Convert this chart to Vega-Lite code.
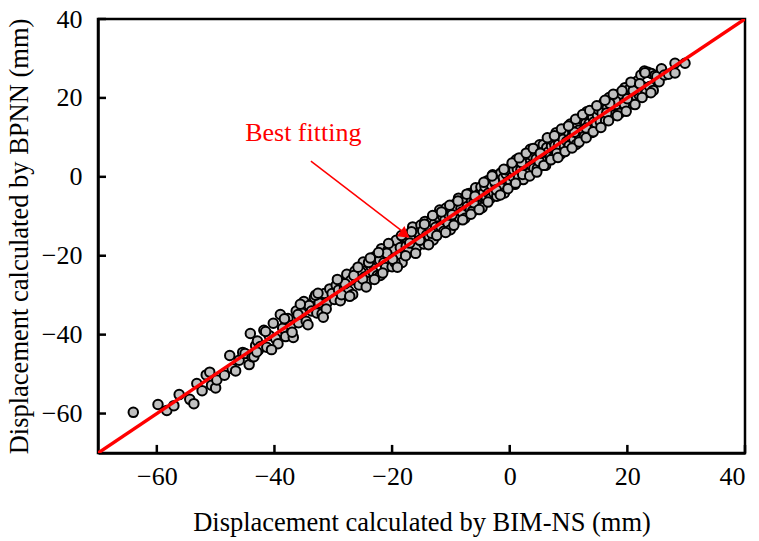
{
"$schema": "https://vega.github.io/schema/vega-lite/v6.json",
"width": 647, "height": 434,
"autosize": {"type": "none"},
"padding": {"left": 98, "top": 19, "right": 14, "bottom": 88},
"background": "white",
"config": {
 "view": {"stroke": "black", "strokeWidth": 2.5},
 "font": "Liberation Serif",
 "axis": {"grid": false, "domainColor": "black", "domainWidth": 2.5, "tickColor": "black", "tickWidth": 2.5,
  "labelFont": "Liberation Serif", "labelFontSize": 26, "labelColor": "black",
  "titleFont": "Liberation Serif", "titleFontSize": 26.5, "titleFontWeight": "normal", "titleColor": "black"}
},
"resolve": {"axis": {"x": "independent", "y": "independent"}},
"datasets": {
 "pts": [
{"x":-64,"y":-59.7},{"x":-59.8,"y":-57.7},{"x":-58.3,"y":-59.2},{"x":-57.1,"y":-58},{"x":-56.2,"y":-55.2},{"x":-54.4,"y":-56.4},{"x":-53.7,"y":-57.5},{"x":-53.2,"y":-52.4},{"x":-52.3,"y":-54.2},{"x":-51.6,"y":-50.2},{"x":-51,"y":-49.5},{"x":-50.7,"y":-52.8},{"x":-50,"y":-53.5},{"x":-49.8,"y":-51.5},{"x":-48.5,"y":-50.3},{"x":-47.6,"y":-45.3},{"x":-47.2,"y":-48.6},{"x":-46.6,"y":-49.2},{"x":-46,"y":-46.5},{"x":-45.4,"y":-44.5},{"x":-45,"y":-44.8},{"x":-44.3,"y":-47.6},{"x":-43.8,"y":-45.6},{"x":-43.2,"y":-42.8},{"x":-42.7,"y":-43.9},
{"x":-44.1,"y":-39.7},{"x":-43.5,"y":-45.6},{"x":-42.9,"y":-41.6},{"x":-42.4,"y":-43.0},{"x":-41.8,"y":-38.9},{"x":-41.3,"y":-43.2},{"x":-40.9,"y":-40.2},{"x":-40.2,"y":-37.1},{"x":-39.8,"y":-41.0},{"x":-39.0,"y":-34.9},{"x":-38.6,"y":-38.4},{"x":-38.1,"y":-40.5},{"x":-37.7,"y":-35.9},{"x":-37.2,"y":-37.7},{"x":-36.8,"y":-40.7},{"x":-36.3,"y":-34.0},{"x":-35.9,"y":-37.0},{"x":-35.4,"y":-34.5},{"x":-35.0,"y":-31.6},{"x":-34.6,"y":-36.6},{"x":-34.1,"y":-32.6},{"x":-33.7,"y":-34.0},{"x":-33.2,"y":-30.6},{"x":-32.8,"y":-34.5},{"x":-32.4,"y":-32.0},{"x":-31.9,"y":-34.7},{"x":-31.5,"y":-29.6},{"x":-31.1,"y":-32.0},{"x":-30.6,"y":-28.4},{"x":-30.2,"y":-29.6},{"x":-43.0,"y":-44.4},{"x":-39.4,"y":-42.3},{"x":-36.0,"y":-34.9},{"x":-33.0,"y":-30.0},{"x":-31.2,"y":-33.5},
{"x":-29.8,"y":-31.1},{"x":-29.5,"y":-27.5},{"x":-29.1,"y":-28.7},{"x":-28.8,"y":-31.4},{"x":-28.4,"y":-26.8},{"x":-28.1,"y":-28.3},{"x":-27.7,"y":-24.7},{"x":-27.4,"y":-28.9},{"x":-27.0,"y":-26.2},{"x":-26.7,"y":-29.8},{"x":-26.3,"y":-23.9},{"x":-26.0,"y":-25.9},{"x":-25.6,"y":-27.4},{"x":-25.3,"y":-24.1},{"x":-24.9,"y":-21.6},{"x":-24.6,"y":-25.3},{"x":-24.2,"y":-26.5},{"x":-23.9,"y":-22.0},{"x":-23.5,"y":-23.0},{"x":-23.2,"y":-24.2},{"x":-22.8,"y":-20.1},{"x":-22.5,"y":-25.0},{"x":-22.1,"y":-21.1},{"x":-21.8,"y":-18.2},{"x":-21.4,"y":-21.8},{"x":-21.1,"y":-23.0},{"x":-20.7,"y":-18.6},{"x":-20.4,"y":-20.1},{"x":-20.0,"y":-22.8},{"x":-19.7,"y":-18.3},{"x":-19.3,"y":-16.1},{"x":-19.0,"y":-20.1},{"x":-18.6,"y":-17.9},{"x":-18.3,"y":-21.7},{"x":-17.9,"y":-15.4},{"x":-17.6,"y":-17.6},{"x":-17.2,"y":-18.8},{"x":-16.9,"y":-15.2},{"x":-16.5,"y":-12.7},{"x":-16.2,"y":-17.0},{"x":-15.8,"y":-17.8},{"x":-15.5,"y":-14.2},{"x":-15.1,"y":-12.2},{"x":-28.0,"y":-27.1},{"x":-25.0,"y":-25.9},{"x":-22.0,"y":-25.0},{"x":-19.5,"y":-21.7},{"x":-17.0,"y":-16.8},{"x":-24.0,"y":-21.7},{"x":-20.9,"y":-19.4},
{"x":-14.8,"y":-13.7},{"x":-14.6,"y":-17.0},{"x":-14.4,"y":-11.3},{"x":-14.1,"y":-14.7},{"x":-13.9,"y":-12.1},{"x":-13.7,"y":-15.0},{"x":-13.5,"y":-13.1},{"x":-13.2,"y":-10.6},{"x":-13.0,"y":-16.0},{"x":-12.8,"y":-11.9},{"x":-12.6,"y":-12.8},{"x":-12.3,"y":-10.1},{"x":-12.1,"y":-13.8},{"x":-11.9,"y":-8.4},{"x":-11.7,"y":-12.6},{"x":-11.4,"y":-10.0},{"x":-11.2,"y":-13.8},{"x":-11.0,"y":-10.9},{"x":-10.8,"y":-7.9},{"x":-10.5,"y":-11.7},{"x":-10.3,"y":-9.7},{"x":-10.1,"y":-13.4},{"x":-9.9,"y":-8.0},{"x":-9.6,"y":-10.0},{"x":-9.4,"y":-7.0},{"x":-9.2,"y":-11.1},{"x":-9.0,"y":-8.2},{"x":-8.7,"y":-5.4},{"x":-8.5,"y":-10.6},{"x":-8.3,"y":-8.1},{"x":-8.1,"y":-8.9},{"x":-7.8,"y":-5.8},{"x":-7.6,"y":-10.5},{"x":-7.4,"y":-6.2},{"x":-7.2,"y":-7.5},{"x":-6.9,"y":-4.2},{"x":-6.7,"y":-8.2},{"x":-6.5,"y":-6.0},{"x":-6.3,"y":-8.7},{"x":-6.0,"y":-4.4},{"x":-5.8,"y":-2.8},{"x":-5.6,"y":-6.3},{"x":-5.4,"y":-7.2},{"x":-5.1,"y":-4.2},{"x":-4.9,"y":-2.6},{"x":-4.7,"y":-7.8},{"x":-4.5,"y":-4.2},{"x":-4.2,"y":-2.5},{"x":-4.0,"y":-5.1},{"x":-3.8,"y":-1.0},{"x":-3.6,"y":-4.1},{"x":-3.3,"y":-5.5},{"x":-3.1,"y":-2.1},{"x":-2.9,"y":0.5},{"x":-2.7,"y":-4.1},{"x":-2.4,"y":-1.8},{"x":-2.2,"y":-4.9},{"x":-2.0,"y":-0.1},{"x":-1.8,"y":-1.9},{"x":-1.5,"y":1.0},{"x":-1.3,"y":-2.9},{"x":-1.1,"y":-0.3},{"x":-0.9,"y":-4.1},{"x":-0.6,"y":0.7},{"x":-0.4,"y":1.7},{"x":-0.2,"y":-1.1},{"x":-13.3,"y":-14.3},{"x":-9.8,"y":-9.6},{"x":-6.1,"y":-6.6},{"x":-2.6,"y":-1.1},
{"x":0.1,"y":-1.1},{"x":0.3,"y":2.6},{"x":0.5,"y":0.1},{"x":0.7,"y":1.7},{"x":0.9,"y":-1.9},{"x":1.1,"y":4.3},{"x":1.3,"y":1.9},{"x":1.5,"y":-0.2},{"x":1.7,"y":3.7},{"x":1.9,"y":1.7},{"x":2.1,"y":3.6},{"x":2.3,"y":-0.7},{"x":2.5,"y":3.3},{"x":2.7,"y":5.3},{"x":2.9,"y":1.8},{"x":3.1,"y":3.4},{"x":3.3,"y":1.0},{"x":3.5,"y":7.0},{"x":3.7,"y":2.9},{"x":3.9,"y":5.2},{"x":4.1,"y":2.2},{"x":4.3,"y":6.5},{"x":4.5,"y":4.5},{"x":4.7,"y":2.1},{"x":4.9,"y":6.6},{"x":5.1,"y":8.1},{"x":5.3,"y":4.7},{"x":5.5,"y":4.1},{"x":5.7,"y":8.1},{"x":5.9,"y":6.4},{"x":6.1,"y":2.9},{"x":6.3,"y":7.4},{"x":6.5,"y":6.2},{"x":6.7,"y":9.5},{"x":6.9,"y":5.1},{"x":7.1,"y":7.8},{"x":7.3,"y":9.2},{"x":7.5,"y":5.0},{"x":7.7,"y":7.9},{"x":7.9,"y":11.2},{"x":8.1,"y":7.1},{"x":8.3,"y":8.2},{"x":8.5,"y":10.6},{"x":8.7,"y":5.8},{"x":8.9,"y":10.3},{"x":9.1,"y":9.5},{"x":9.3,"y":7.8},{"x":9.5,"y":12.2},{"x":9.7,"y":9.0},{"x":9.9,"y":11.5},{"x":10.1,"y":7.9},{"x":10.3,"y":13.4},{"x":10.5,"y":10.0},{"x":10.7,"y":11.6},{"x":10.9,"y":9.6},{"x":11.1,"y":13.4},{"x":11.3,"y":8.2},{"x":11.5,"y":12.7},{"x":11.7,"y":11.8},{"x":11.9,"y":10.0},{"x":12.1,"y":15.0},{"x":12.3,"y":11.4},{"x":12.5,"y":14.3},{"x":12.7,"y":10.3},{"x":12.9,"y":13.5},{"x":13.1,"y":16.5},{"x":13.3,"y":11.7},{"x":13.5,"y":13.5},{"x":13.7,"y":15.9},{"x":13.9,"y":11.2},{"x":14.1,"y":15.1},{"x":14.3,"y":13.9},{"x":14.5,"y":17.0},{"x":14.7,"y":13.5},{"x":14.9,"y":15.7},{"x":2.0,"y":3.6},{"x":5.0,"y":3.9},{"x":8.0,"y":6.0},{"x":11.0,"y":11.3},{"x":13.0,"y":12.4},
{"x":15.1,"y":17.0},{"x":15.4,"y":14.0},{"x":15.7,"y":16.2},{"x":16.0,"y":18.8},{"x":16.3,"y":14.2},{"x":16.6,"y":17.5},{"x":16.9,"y":20.1},{"x":17.2,"y":16.6},{"x":17.5,"y":15.6},{"x":17.8,"y":19.3},{"x":18.1,"y":18.3},{"x":18.4,"y":20.8},{"x":18.7,"y":16.1},{"x":19.0,"y":20.1},{"x":19.3,"y":18.8},{"x":19.6,"y":22.6},{"x":19.9,"y":18.3},{"x":20.2,"y":20.8},{"x":20.5,"y":22.5},{"x":20.8,"y":18.5},{"x":21.1,"y":22.4},{"x":21.4,"y":20.6},{"x":21.7,"y":24.3},{"x":22.0,"y":20.8},{"x":22.3,"y":25.8},{"x":22.6,"y":22.9},{"x":22.9,"y":26.8},{"x":23.2,"y":21.4},{"x":23.5,"y":26.5},{"x":23.8,"y":22.9},{"x":24.1,"y":26.2},{"x":24.4,"y":21.9},{"x":24.7,"y":25.7},{"x":25.0,"y":25.4},{"x":25.4,"y":24.1},{"x":25.8,"y":27.4},{"x":26.3,"y":25.8},{"x":27.0,"y":26.0},{"x":28.1,"y":28.8},{"x":28.1,"y":26.3},{"x":29.8,"y":28.8},{"x":16.5,"y":16.2},{"x":18.0,"y":19.2},{"x":19.5,"y":18.4},{"x":21.0,"y":21.8},{"x":22.5,"y":20.1},{"x":24.0,"y":21.3},{"x":17.0,"y":18.6},{"x":20.0,"y":19.8},{"x":23.0,"y":26.4},
{"x":-41.5,"y":-39.2},{"x":-40.5,"y":-43.8},{"x":-38.3,"y":-36.0},{"x":-37.0,"y":-39.4},{"x":-35.6,"y":-32.3},{"x":-34.3,"y":-37.5},{"x":-32.6,"y":-29.5},{"x":-31.7,"y":-35.6},{"x":-29.3,"y":-26.0},{"x":-28.6,"y":-29.9},{"x":-27.2,"y":-30.3},{"x":-26.5,"y":-25.0},{"x":-25.8,"y":-22.9},{"x":-24.4,"y":-27.9},{"x":-23.7,"y":-20.6},{"x":-23.0,"y":-26.0},{"x":-22.3,"y":-19.2},{"x":-21.6,"y":-24.4},{"x":-20.6,"y":-16.9},{"x":-19.9,"y":-20.9},{"x":-19.1,"y":-22.9},{"x":-18.4,"y":-14.9},{"x":-17.7,"y":-20.0},{"x":-16.7,"y":-13.9},{"x":-16.0,"y":-19.4},{"x":-15.3,"y":-16.1},{"x":-14.5,"y":-12.0},{"x":-13.8,"y":-17.2},{"x":-13.1,"y":-9.8},{"x":-12.4,"y":-14.9},{"x":-11.6,"y":-8.9},{"x":-10.9,"y":-14.1},{"x":-10.2,"y":-7.2},{"x":-9.5,"y":-12.3},{"x":-8.8,"y":-6.1},{"x":-8.0,"y":-10.9},{"x":-7.3,"y":-4.4},{"x":-6.6,"y":-9.5},{"x":-5.9,"y":-4.9},{"x":-5.2,"y":-8.3},{"x":-4.4,"y":-1.4},{"x":-3.7,"y":-6.4},{"x":-3.0,"y":0.2},{"x":-2.3,"y":-3.3},{"x":-1.6,"y":-4.6},{"x":-1.0,"y":1.9},{"x":-0.3,"y":-3.0},{"x":0.4,"y":3.5},{"x":1.0,"y":-1.6},{"x":1.6,"y":4.8},{"x":2.2,"y":0.6},{"x":2.8,"y":6.0},{"x":3.4,"y":0.2},{"x":4.0,"y":7.2},{"x":4.6,"y":1.2},{"x":5.2,"y":6.0},{"x":5.8,"y":2.9},{"x":6.4,"y":9.9},{"x":7.0,"y":4.3},{"x":7.6,"y":10.4},{"x":8.2,"y":4.9},{"x":8.8,"y":12.1},{"x":9.4,"y":6.4},{"x":10.0,"y":12.9},{"x":10.6,"y":7.3},{"x":11.2,"y":14.6},{"x":11.8,"y":8.8},{"x":12.4,"y":15.8},{"x":13.0,"y":9.9},{"x":13.6,"y":16.8},{"x":14.2,"y":11.4},{"x":14.8,"y":18.0},{"x":15.5,"y":12.5},{"x":16.2,"y":19.4},{"x":16.8,"y":14.2},{"x":17.6,"y":20.9},{"x":18.3,"y":15.5},{"x":19.1,"y":21.8},{"x":19.8,"y":16.6},{"x":20.6,"y":24.0},{"x":21.3,"y":18.3},{"x":22.1,"y":23.6}
 ],
 "ticks": [{"v": -60}, {"v": -40}, {"v": -20}, {"v": 0}, {"v": 20}, {"v": 40}],
 "fit": [{"x": -70, "y": -70}, {"x": 40, "y": 40}],
 "arrow": [{"x": -33.8, "y": 4.0, "x2": -17.4, "y2": -14.8}],
 "head": [{"x": -17.8, "y": -14.6}],
 "label": [{"x": -35.1, "y": 11.1, "t": "Best fitting"}]
},
"layer": [
 {"data": {"name": "pts"}, "mark": {"type": "point", "filled": true, "fill": "#c0c0c0", "stroke": "black", "strokeWidth": 2, "size": 90, "opacity": 1, "clip": true},
  "encoding": {
   "x": {"field": "x", "type": "quantitative", "scale": {"domain": [-70, 40], "nice": false, "zero": false}, "axis": {"orient": "bottom", "values": [-60, -40, -20, 0, 20, 40], "title": "Displacement calculated by BIM-NS (mm)", "ticks": false, "tickSize": 0, "labelPadding": 10, "titlePadding": 20}},
   "y": {"field": "y", "type": "quantitative", "scale": {"domain": [-70, 40], "nice": false, "zero": false}, "axis": {"orient": "left", "values": [-60, -40, -20, 0, 20, 40], "title": "Displacement calculated by BPNN (mm)", "ticks": false, "tickSize": 0, "labelPadding": 16, "titlePadding": 8}}
  }},
 {"data": {"name": "ticks"}, "mark": {"type": "rule", "color": "black", "strokeWidth": 2.5, "opacity": 1},
  "encoding": {"x": {"field": "v", "type": "quantitative", "axis": null}, "y": {"datum": -70, "type": "quantitative", "axis": null}, "y2": {"datum": -67.95}}},
 {"data": {"name": "ticks"}, "mark": {"type": "rule", "color": "black", "strokeWidth": 2.5, "opacity": 1},
  "encoding": {"y": {"field": "v", "type": "quantitative", "axis": null}, "x": {"datum": -70, "type": "quantitative", "axis": null}, "x2": {"datum": -68.64}}},
 {"data": {"name": "fit"}, "mark": {"type": "line", "color": "#ff0000", "strokeWidth": 3.5, "clip": true},
  "encoding": {"x": {"field": "x", "type": "quantitative", "axis": null}, "y": {"field": "y", "type": "quantitative", "axis": null}}},
 {"data": {"name": "arrow"}, "mark": {"type": "rule", "color": "#ff0000", "strokeWidth": 1.5},
  "encoding": {"x": {"field": "x", "type": "quantitative", "axis": null}, "y": {"field": "y", "type": "quantitative", "axis": null}, "x2": {"field": "x2"}, "y2": {"field": "y2"}}},
 {"data": {"name": "head"}, "mark": {"type": "point", "shape": "triangle-right", "filled": true, "fill": "#ff0000", "stroke": null, "size": 160, "angle": 37, "opacity": 1},
  "encoding": {"x": {"field": "x", "type": "quantitative", "axis": null}, "y": {"field": "y", "type": "quantitative", "axis": null}}},
 {"data": {"name": "label"}, "mark": {"type": "text", "color": "#ff0000", "font": "Liberation Serif", "fontSize": 26, "align": "center", "baseline": "middle"},
  "encoding": {"x": {"field": "x", "type": "quantitative", "axis": null}, "y": {"field": "y", "type": "quantitative", "axis": null}, "text": {"field": "t"}}}
]
}
